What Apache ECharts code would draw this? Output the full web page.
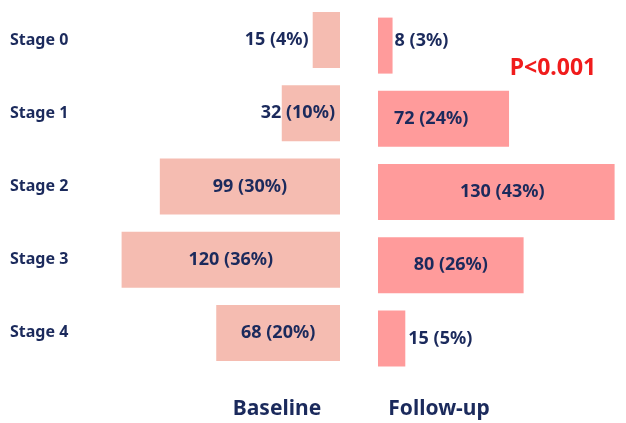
<!DOCTYPE html>
<html>
<head>
<meta charset="utf-8">
<script src="https://cdn.jsdelivr.net/npm/echarts@6/dist/echarts.min.js"></script>
<style>
  html, body { margin: 0; padding: 0; background: #fff; }
  #chart { width: 626px; height: 423px; }
</style>
</head>
<body>
<div id="chart"></div>
<script>
// 数据
const stages = ['Stage 0', 'Stage 1', 'Stage 2', 'Stage 3', 'Stage 4'];
const baselineN = [15, 32, 99, 120, 68];
const baselinePct = [4, 10, 30, 36, 20];
const followN = [8, 72, 130, 80, 15];
const followPct = [3, 24, 43, 26, 5];

const navy = '#1b2a5c';
const font = '"Noto Sans", "Open Sans", sans-serif';
const pxPerUnit = 1.82;

// 每个柱子的标签位置（参考图里标签摆放不统一）
const leftLabelPos = [
  { position: 'left', distance: 4 },
  { position: 'insideRight', distance: 5 },
  { position: 'inside' },
  { position: 'inside' },
  { position: 'inside' }
];
const rightLabelPos = [
  { position: 'right', distance: 2, offset: [0, -5] },
  { position: 'insideLeft', distance: 16 },
  { position: 'insideLeft', distance: 82 },
  { position: 'inside' },
  { position: 'right', distance: 3 }
];

const labelStyle = { show: true, color: navy, fontFamily: font, fontWeight: 'bold', fontSize: 18 };

function makeData(values, pcts, pos) {
  return values.map((v, i) => ({
    value: v,
    label: Object.assign({}, labelStyle, pos[i], {
      formatter: v + ' (' + pcts[i] + '%)'
    })
  }));
}

const leftMax = 180;
const rightMax = 140;

const chart = echarts.init(document.getElementById('chart'));
chart.setOption({
  animation: false,
  title: [
    { text: 'P<0.001', left: 553, top: 68, textAlign: 'center', textVerticalAlign: 'middle', padding: 0,
      textStyle: { color: '#f01c1c', fontFamily: font, fontWeight: 'bold', fontSize: 23 } },
    { text: 'Baseline', left: 277, top: 409, textAlign: 'center', textVerticalAlign: 'middle', padding: 0,
      textStyle: { color: navy, fontFamily: font, fontWeight: 'bold', fontSize: 21 } },
    { text: 'Follow-up', left: 439, top: 409, textAlign: 'center', textVerticalAlign: 'middle', padding: 0,
      textStyle: { color: navy, fontFamily: font, fontWeight: 'bold', fontSize: 21 } }
  ],
  grid: [
    { left: 340 - leftMax * pxPerUnit, width: leftMax * pxPerUnit, top: 3.5, height: 366,
      containLabel: false, outerBoundsMode: 'none' },
    { left: 378, width: rightMax * pxPerUnit, top: 9, height: 366,
      containLabel: false, outerBoundsMode: 'none' }
  ],
  xAxis: [
    { type: 'value', gridIndex: 0, inverse: true, min: 0, max: leftMax, show: false },
    { type: 'value', gridIndex: 1, min: 0, max: rightMax, show: false }
  ],
  yAxis: [
    { type: 'category', gridIndex: 0, data: stages, inverse: true, position: 'left',
      axisLine: { show: false, onZero: false }, axisTick: { show: false },
      axisLabel: { align: 'left', margin: 340 - leftMax * pxPerUnit - 10, padding: [4, 0, 0, 0],
        color: navy, fontFamily: font, fontWeight: 'bold', fontSize: 16 } },
    { type: 'category', gridIndex: 1, data: stages, inverse: true, show: false }
  ],
  series: [
    { name: 'Baseline', type: 'bar', xAxisIndex: 0, yAxisIndex: 0, barWidth: 56,
      itemStyle: { color: '#f5bcb1' },
      data: makeData(baselineN, baselinePct, leftLabelPos) },
    { name: 'Follow-up', type: 'bar', xAxisIndex: 1, yAxisIndex: 1, barWidth: 56,
      itemStyle: { color: '#ff9b9b' },
      data: makeData(followN, followPct, rightLabelPos) }
  ]
});
</script>
</body>
</html>
